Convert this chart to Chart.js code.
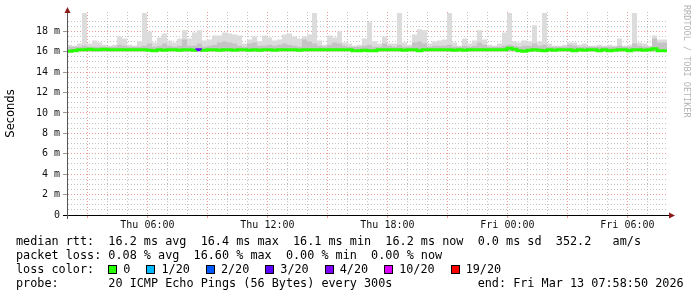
<!DOCTYPE html>
<html>
<head>
<meta charset="utf-8">
<script src="https://cdn.jsdelivr.net/npm/chart.js@4"></script>
<style>
  body { margin: 0; background: #fff; }
  #wrap { position: relative; width: 697px; height: 297px; overflow: hidden; }
  #rrd { position: absolute; left: 682px; top: 5px; writing-mode: vertical-rl; font: 8.5px 'DejaVu Sans Mono', monospace; line-height: 9px; color: #b4b4b4; white-space: pre; }
  .ln { position: absolute; left: 16px; font: 11.8px 'DejaVu Sans Mono', monospace; line-height: 14px; color: #000; white-space: pre; }
  .sq { display: inline-block; width: 7px; height: 7px; border: 1px solid #000; margin-right: 6px; position: relative; top: 1px; }
  .sq.next { margin-left: 16px; }
</style>
</head>
<body>
<div id="wrap">
  <canvas id="graph" width="697" height="297"></canvas>
  <div id="rrd">RRDTOOL / TOBI OETIKER</div>
  <div class="ln" id="l1" style="top:234px"></div>
  <div class="ln" id="l2" style="top:248px"></div>
  <div class="ln" id="l3" style="top:262px"></div>
  <div class="ln" id="l4" style="top:276px"></div>
</div>
<script>
// time axis: hours since Thu 00:00, graph covers 30h ending Fri 07:58:50
const T0 = 1 + 58 / 60 + 50 / 3600;
const STEP = 0.25;
const T1 = T0 + 30;

// smoke top (max ping) per 15 min column, ms
const smokeMax = [
  17.5, 16.7, 16.6, 16.8, 19.8, 16.8, 17.1, 16.9, 16.7, 16.6,
  16.7, 17.5, 17.3, 16.7, 16.6, 17.0, 19.8, 18.0, 16.9, 17.4,
  17.8, 17.1, 16.9, 17.3, 18.1, 17.3, 17.9, 18.1, 17.1, 17.2,
  17.6, 17.6, 17.9, 17.8, 17.7, 17.6, 16.8, 17.2, 17.5, 17.0,
  17.6, 17.4, 17.1, 17.2, 17.7, 17.8, 17.5, 17.3, 17.5, 17.7,
  19.8, 17.1, 16.7, 17.6, 17.4, 18.0, 16.9, 16.8, 16.6, 16.7,
  17.3, 18.9, 17.0, 16.8, 17.5, 16.8, 16.8, 19.8, 16.9, 16.7,
  17.7, 18.2, 18.1, 16.8, 17.0, 17.1, 17.2, 19.8, 16.9, 16.6,
  17.3, 16.8, 17.1, 18.1, 17.2, 16.7, 16.6, 16.8, 17.9, 19.8,
  17.0, 16.9, 17.1, 17.0, 18.6, 17.0, 19.8, 16.8, 16.6, 16.6,
  16.7, 16.9, 16.9, 16.7, 16.8, 16.6, 16.6, 16.7, 16.6, 16.7,
  16.6, 17.3, 16.6, 16.7, 19.8, 16.9, 16.8, 16.6, 17.6, 17.2
];

// denser smoke (middle pings), ms
const smokeMid = [
  17.0, 16.5, 16.5, 16.5, 16.6, 16.5, 16.5, 16.5, 16.5, 16.5,
  16.5, 16.7, 16.6, 16.5, 16.5, 16.5, 16.6, 16.8, 16.5, 16.6,
  16.8, 16.6, 16.5, 16.6, 17.2, 16.6, 16.6, 16.8, 16.5, 16.6,
  16.7, 16.9, 17.0, 16.9, 16.8, 16.6, 16.5, 16.8, 16.9, 16.6,
  16.6, 16.7, 16.6, 16.7, 16.8, 16.7, 16.6, 16.5, 17.2, 17.0,
  16.8, 16.6, 16.5, 16.7, 16.9, 16.8, 16.6, 16.5, 16.5, 16.5,
  16.6, 16.7, 16.5, 16.5, 16.8, 16.6, 16.5, 16.7, 16.5, 16.5,
  16.9, 17.0, 16.8, 16.5, 16.6, 16.6, 16.6, 16.7, 16.5, 16.5,
  16.6, 16.5, 16.6, 16.9, 16.7, 16.5, 16.5, 16.5, 16.6, 16.7,
  16.6, 16.5, 16.6, 16.6, 16.8, 16.6, 16.7, 16.5, 16.5, 16.5,
  16.5, 16.7, 16.6, 16.5, 16.5, 16.5, 16.5, 16.5, 16.5, 16.5,
  16.5, 16.6, 16.5, 16.5, 16.8, 16.6, 16.5, 16.5, 17.3, 16.9
];

// median rtt, ms
const median = [
  16.2, 16.05, 16.1, 16.2, 16.2, 16.25, 16.2, 16.2, 16.25, 16.2,
  16.2, 16.2, 16.2, 16.2, 16.2, 16.2, 16.2, 16.15, 16.1, 16.2,
  16.15, 16.2, 16.2, 16.15, 16.2, 16.2, 16.15, 16.2, 16.15, 16.2,
  16.2, 16.15, 16.2, 16.2, 16.15, 16.2, 16.2, 16.15, 16.2, 16.15,
  16.2, 16.2, 16.15, 16.2, 16.2, 16.2, 16.2, 16.15, 16.2, 16.2,
  16.2, 16.2, 16.2, 16.2, 16.2, 16.2, 16.2, 16.2, 16.1, 16.1,
  16.15, 16.1, 16.1, 16.2, 16.2, 16.2, 16.2, 16.2, 16.15, 16.2,
  16.2, 16.1, 16.2, 16.2, 16.2, 16.2, 16.2, 16.2, 16.15, 16.2,
  16.15, 16.2, 16.2, 16.2, 16.2, 16.2, 16.2, 16.2, 16.2, 16.35,
  16.25, 16.1, 16.05, 16.15, 16.2, 16.15, 16.1, 16.2, 16.15, 16.2,
  16.2, 16.2, 16.1, 16.2, 16.15, 16.2, 16.2, 16.1, 16.2, 16.1,
  16.15, 16.2, 16.2, 16.1, 16.2, 16.2, 16.15, 16.2, 16.3, 16.1
];

// lost pings (of 20) per column
const lossPings = [
  0, 0, 0, 0, 0, 0, 0, 0, 0, 0, 0, 0, 0, 0, 0, 0, 0, 0, 0, 0,
  0, 0, 0, 0, 0, 0, 3, 0, 0, 0, 0, 0, 0, 0, 0, 0, 0, 0, 0, 0,
  0, 0, 0, 0, 0, 0, 0, 0, 0, 0, 0, 0, 0, 0, 0, 0, 0, 0, 0, 0,
  0, 0, 0, 0, 0, 0, 0, 0, 0, 0, 0, 0, 0, 0, 0, 0, 0, 0, 0, 0,
  0, 0, 0, 0, 0, 0, 0, 0, 0, 0, 0, 0, 0, 0, 0, 0, 0, 0, 0, 0,
  0, 0, 0, 0, 0, 0, 0, 0, 0, 0, 0, 0, 0, 0, 0, 0, 0, 0, 0, 0
];

const lossSteps = [0, 1, 2, 3, 4, 10, 19];
const lossLabels = ['0', '1/20', '2/20', '3/20', '4/20', '10/20', '19/20'];
const lossColors = ['#26ff00', '#00b8ff', '#0059ff', '#5e00ff', '#7e00ff', '#dd00ff', '#ff0000'];

const statsRtt = 'median rtt:  16.2 ms avg  16.4 ms max  16.1 ms min  16.2 ms now  0.0 ms sd  352.2   am/s';
const statsLoss = 'packet loss: 0.08 % avg  16.60 % max  0.00 % min  0.00 % now';
const probeText = 'probe:       20 ICMP Echo Pings (56 Bytes) every 300s            end: Fri Mar 13 07:58:50 2026';

function lossColor(n) {
  let c = lossColors[0];
  lossSteps.forEach((s, i) => { if (n >= s) c = lossColors[i]; });
  return c;
}

function pts(arr) {
  const out = arr.map((v, i) => ({ x: T0 + i * STEP, y: v }));
  out.push({ x: T1, y: arr[arr.length - 1] });
  return out;
}

const RED = 'rgba(230, 120, 120, 0.75)';
const GRAY = 'rgba(170, 170, 170, 0.7)';
const mono10 = { family: "'DejaVu Sans Mono', monospace", size: 10 };

const arrows = {
  id: 'arrows',
  afterDraw(chart) {
    const c = chart.ctx;
    const a = chart.chartArea;
    c.save();
    c.strokeStyle = '#000';
    c.lineWidth = 1;
    c.beginPath();
    c.moveTo(a.left - 4, a.bottom + 0.5);
    c.lineTo(a.right + 3, a.bottom + 0.5);
    c.stroke();
    c.strokeStyle = '#555';
    c.beginPath();
    c.moveTo(a.left + 0.5, a.top - 2);
    c.lineTo(a.left + 0.5, a.bottom + 4);
    c.stroke();
    c.fillStyle = '#8b1c1c';
    c.beginPath();
    c.moveTo(a.left + 0.5, a.top - 5);
    c.lineTo(a.left - 2.5, a.top + 1);
    c.lineTo(a.left + 3.5, a.top + 1);
    c.closePath();
    c.fill();
    c.beginPath();
    c.moveTo(a.right + 8, a.bottom + 0.5);
    c.lineTo(a.right + 2, a.bottom - 2.5);
    c.lineTo(a.right + 2, a.bottom + 3.5);
    c.closePath();
    c.fill();
    c.restore();
  }
};

const ctx = document.getElementById('graph').getContext('2d');
new Chart(ctx, {
  type: 'line',
  data: {
    datasets: [
      {
        data: pts(median),
        stepped: 'after',
        borderWidth: 3,
        borderColor: lossColors[0],
        segment: { borderColor: s => lossColor(lossPings[s.p0DataIndex] || 0) },
        pointRadius: 0,
        fill: false
      },
      {
        data: pts(smokeMid),
        stepped: 'after',
        borderWidth: 0,
        borderColor: 'rgba(0,0,0,0)',
        backgroundColor: '#c4c4c4',
        pointRadius: 0,
        fill: { value: 16.05 }
      },
      {
        data: pts(smokeMax),
        stepped: 'after',
        borderWidth: 0,
        borderColor: 'rgba(0,0,0,0)',
        backgroundColor: '#dcdcdc',
        pointRadius: 0,
        fill: { value: 16.05 }
      }
    ]
  },
  options: {
    responsive: false,
    animation: false,
    layout: { padding: { top: 12, right: 30, left: 0, bottom: 0 } },
    plugins: { legend: { display: false }, tooltip: { enabled: false } },
    scales: {
      x: {
        type: 'linear',
        min: T0,
        max: T1,
        afterBuildTicks: s => {
          const t = [];
          for (let h = Math.ceil(T0); h <= Math.floor(T1); h++) t.push({ value: h });
          s.ticks = t;
        },
        afterFit: s => { s.height = 82; },
        ticks: {
          autoSkip: false,
          maxRotation: 0,
          padding: 1,
          font: mono10,
          color: '#111',
          callback: v => {
            const h = Math.round(v);
            if (h % 6 !== 0) return '';
            const day = h < 24 ? 'Thu' : 'Fri';
            return day + ' ' + String(h % 24).padStart(2, '0') + ':00';
          }
        },
        grid: {
          color: c => (Math.round(c.tick.value) % 3 === 0 ? RED : GRAY),
          tickColor: c => (Math.round(c.tick.value) % 3 === 0 ? RED : 'rgba(0,0,0,0)'),
          tickLength: 3
        },
        border: { color: '#000', dash: [1, 2] }
      },
      y: {
        min: 0,
        max: 19.9,
        afterFit: s => { s.width = 67; },
        ticks: {
          stepSize: 0.5,
          autoSkip: false,
          padding: 3,
          font: mono10,
          color: '#111',
          callback: v => {
            if (Math.abs(v % 2) > 1e-6 || v > 19) return '';
            return v === 0 ? '0' : v + ' m';
          }
        },
        grid: {
          color: c => {
            const v = c.tick.value;
            if (Math.abs(v % 2) < 1e-6) return RED;
            if (Math.abs(v % 0.5) < 1e-6) return GRAY;
            return 'rgba(0,0,0,0)';
          },
          tickColor: c => (Math.abs(c.tick.value % 2) < 1e-6 ? '#999' : 'rgba(0,0,0,0)'),
          tickLength: 4
        },
        border: { color: '#555', dash: [1, 2] },
        title: {
          display: true,
          text: 'Seconds',
          color: '#000',
          font: { family: "'DejaVu Sans', sans-serif", size: 11.5 },
          padding: { top: 4, bottom: 0 }
        }
      }
    }
  },
  plugins: [arrows]
});

// text legend under the graph
document.getElementById('l1').textContent = statsRtt;
document.getElementById('l2').textContent = statsLoss;
document.getElementById('l4').textContent = probeText;
const l3 = document.getElementById('l3');
l3.appendChild(document.createTextNode('loss color:  '));
lossLabels.forEach((lab, i) => {
  const sq = document.createElement('span');
  sq.className = 'sq' + (i ? ' next' : '');
  sq.style.background = lossColors[i];
  l3.appendChild(sq);
  l3.appendChild(document.createTextNode(lab));
});
</script>
</body>
</html>
